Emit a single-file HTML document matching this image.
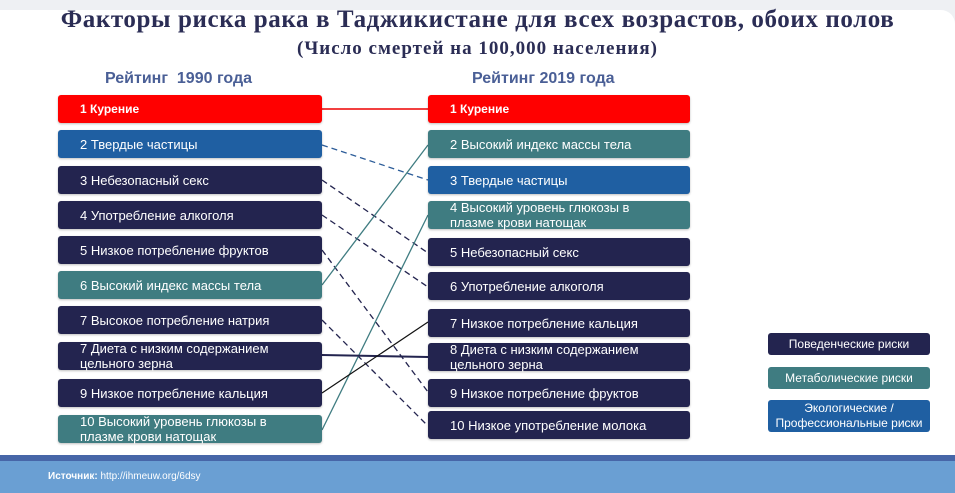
<!DOCTYPE html>
<html><head><meta charset="utf-8"><style>
body{margin:0;width:955px;height:493px;background:#eef0f3;position:relative;overflow:hidden;font-family:"Liberation Sans",sans-serif;}
.card{position:absolute;left:0;top:10px;width:955px;height:450px;background:#fff;border-top-right-radius:14px;}
.t1{position:absolute;left:0;width:955px;text-align:center;top:6px;font-family:"Liberation Serif",serif;font-weight:bold;font-size:25px;color:#2b2d55;letter-spacing:0.6px}
.t2{position:absolute;left:0;width:955px;text-align:center;top:38px;font-family:"Liberation Serif",serif;font-weight:bold;font-size:19px;color:#2b2d55;letter-spacing:1px}
.h{position:absolute;top:70px;font-weight:bold;font-size:16px;color:#4a5f96}
.b{position:absolute;height:28px;border-radius:3px;color:#fff;font-size:13px;display:flex;align-items:center;padding-left:22px;box-sizing:border-box;line-height:15px;box-shadow:0 1px 2px rgba(0,0,0,.25)}
.L{left:58px;width:264px}.R{left:428px;width:262px}
.r{background:#f00;font-weight:bold;font-size:12px}.n{background:#23244f}.t{background:#3f7c81}.bl{background:#1f5fa2}
.lg{position:absolute;left:768px;width:162px;border-radius:3px;color:#fff;font-size:12px;text-align:center;display:flex;align-items:center;justify-content:center;line-height:15px}
</style></head><body>
<div class="card"></div>
<div class="t1">Факторы риска рака в Таджикистане для всех возрастов, обоих полов</div>
<div class="t2">(Число смертей на 100,000 населения)</div>
<div class="h" style="left:105px">Рейтинг&nbsp; 1990 года</div>
<div class="h" style="left:472px">Рейтинг 2019 года</div>
<svg width="955" height="493" style="position:absolute;left:0;top:0">
<line x1="322" y1="109" x2="428" y2="109" stroke="#e00" stroke-width="1.5"/>
<line x1="322" y1="145" x2="428" y2="180" stroke="#2d5d99" stroke-width="1.3" stroke-dasharray="6,4"/>
<line x1="322" y1="180" x2="428" y2="253" stroke="#23244f" stroke-width="1.3" stroke-dasharray="6,4"/>
<line x1="322" y1="215" x2="428" y2="287" stroke="#23244f" stroke-width="1.3" stroke-dasharray="6,4"/>
<line x1="322" y1="250" x2="428" y2="392" stroke="#23244f" stroke-width="1.3" stroke-dasharray="6,4"/>
<line x1="322" y1="320" x2="428" y2="426" stroke="#23244f" stroke-width="1.3" stroke-dasharray="6,4"/>
<line x1="322" y1="285" x2="428" y2="145" stroke="#3f7c81" stroke-width="1.3"/>
<line x1="322" y1="430" x2="428" y2="215" stroke="#3f7c81" stroke-width="1.3"/>
<line x1="322" y1="355" x2="428" y2="357" stroke="#23244f" stroke-width="2"/>
<line x1="322" y1="393" x2="428" y2="322" stroke="#111" stroke-width="1.2"/>
</svg>
<div class="b L r" style="top:95px">1 Курение</div>
<div class="b L bl" style="top:130px">2 Твердые частицы</div>
<div class="b L n" style="top:166px">3 Небезопасный секс</div>
<div class="b L n" style="top:201px">4 Употребление алкоголя</div>
<div class="b L n" style="top:236px">5 Низкое потребление фруктов</div>
<div class="b L t" style="top:271px">6 Высокий индекс массы тела</div>
<div class="b L n" style="top:306px">7 Высокое потребление натрия</div>
<div class="b L n" style="top:342px">7 Диета с низким содержанием<br>цельного зерна</div>
<div class="b L n" style="top:379px">9 Низкое потребление кальция</div>
<div class="b L t" style="top:415px">10 Высокий уровень глюкозы в<br>плазме крови натощак</div>
<div class="b R r" style="top:95px">1 Курение</div>
<div class="b R t" style="top:130px">2 Высокий индекс массы тела</div>
<div class="b R bl" style="top:166px">3 Твердые частицы</div>
<div class="b R t" style="top:201px">4 Высокий уровень глюкозы в<br>плазме крови натощак</div>
<div class="b R n" style="top:238px">5 Небезопасный секс</div>
<div class="b R n" style="top:272px">6 Употребление алкоголя</div>
<div class="b R n" style="top:309px">7 Низкое потребление кальция</div>
<div class="b R n" style="top:343px">8 Диета с низким содержанием<br>цельного зерна</div>
<div class="b R n" style="top:379px">9 Низкое потребление фруктов</div>
<div class="b R n" style="top:411px">10 Низкое употребление молока</div>
<div class="lg" style="top:333px;height:22px;background:#23244f">Поведенческие риски</div>
<div class="lg" style="top:367px;height:22px;background:#3f7c81">Метаболические риски</div>
<div class="lg" style="top:400px;height:32px;background:#1f5fa2">Экологические /<br>Профессиональные риски</div>
<div style="position:absolute;left:0;top:455px;width:955px;height:6px;background:#4766a8"></div>
<div style="position:absolute;left:0;top:461px;width:955px;height:32px;background:#6a9fd3"></div>
<div style="position:absolute;left:48px;top:471px;color:#fff;font-size:10px"><b>Источник:</b> http://ihmeuw.org/6dsy</div>
</body></html>
